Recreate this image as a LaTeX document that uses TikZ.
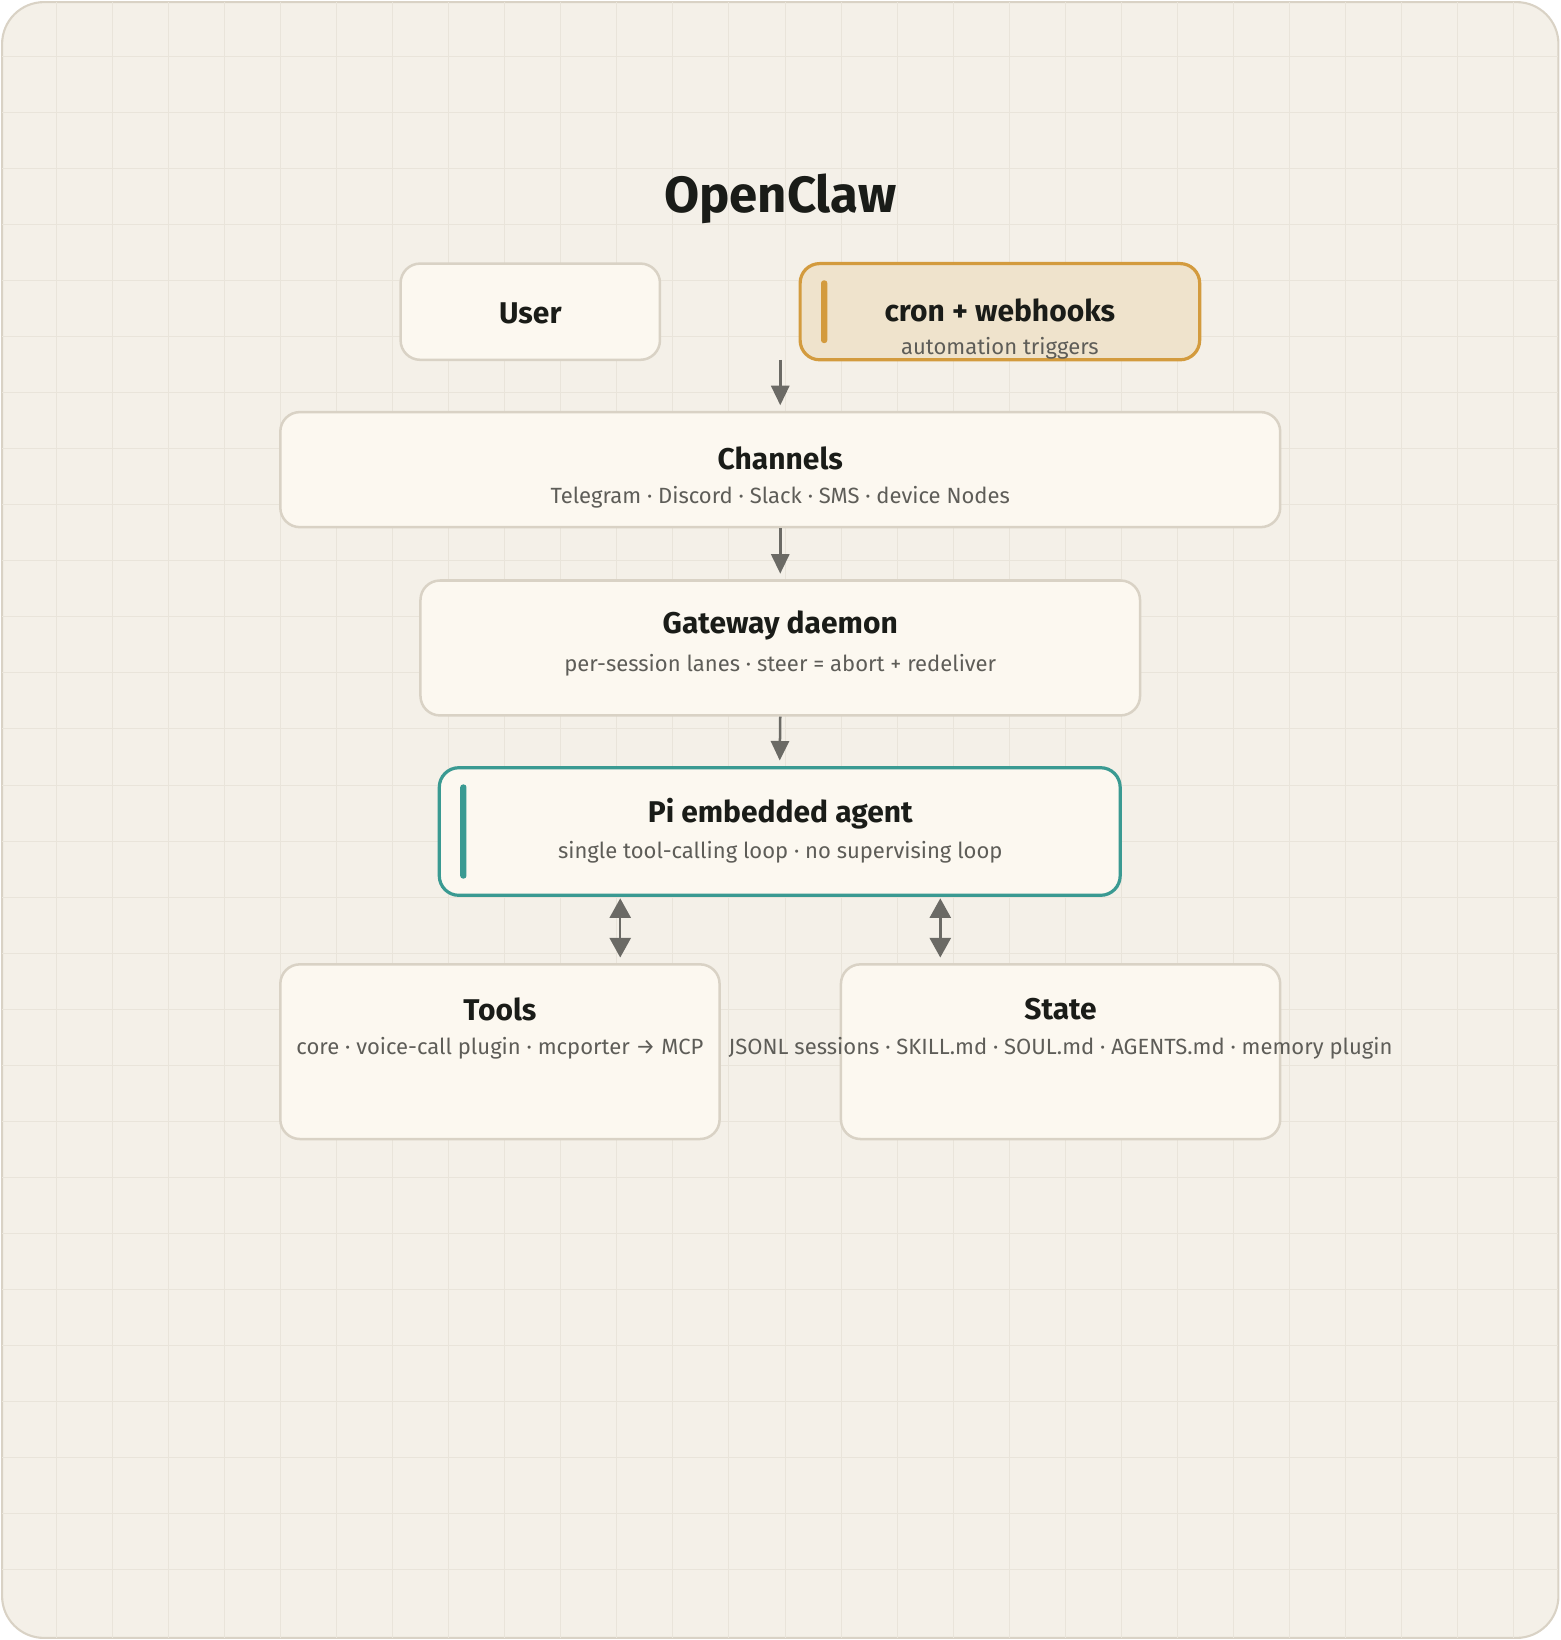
\documentclass[tikz,border=0pt]{standalone}
\usepackage{fontspec}
\setmainfont{Fira Sans}
\usetikzlibrary{arrows.meta}
\definecolor{bg}{HTML}{F4F0E8}
\definecolor{bd}{HTML}{D9D2C5}
\definecolor{card}{HTML}{FCF8F0}
\definecolor{ink}{HTML}{1A1C18}
\definecolor{sub}{HTML}{5E5D58}
\definecolor{arr}{HTML}{6B6A65}
\definecolor{gold}{HTML}{D39B3E}
\definecolor{goldf}{HTML}{EFE3CC}
\definecolor{teal}{HTML}{3A9A92}
\definecolor{grid}{HTML}{E9E4DA}
\begin{document}
\begin{tikzpicture}[x=0.75pt,y=-0.75pt,
 box/.style={draw=bd,line width=1.8pt,fill=card,rounded corners=14pt,inner sep=0},
 ttl/.style={text=ink,font=\fontsize{21.5}{25}\selectfont\bfseries},
 sb/.style={text=sub,font=\fontsize{15.8}{18}\selectfont},
 ar/.style={draw=arr,line width=1.8pt,-{Triangle[length=14pt,width=13pt]}},
 dar/.style={draw=arr,line width=1.8pt,{Triangle[length=14pt,width=15pt]}-{Triangle[length=14pt,width=15pt]}}]
\useasboundingbox (0,0) rectangle (1492,1568);
\draw[bd,fill=bg,line width=1.5pt,rounded corners=30pt] (2,2) rectangle (1490,1566);
\begin{scope}
\clip[rounded corners=30pt] (2,2) rectangle (1490,1566);
\foreach \i in {0,...,28} {\draw[grid,line width=0.5pt] (\i*53.6,2)--(\i*53.6,1566); \draw[grid,line width=0.5pt] (2,\i*53.6)--(1490,\i*53.6);}
\end{scope}
\node[text=ink,font=\fontsize{36.5}{42}\selectfont\bfseries] (title) at (746,190) {OpenClaw};
% boxes
\node[box,minimum width=248*0.75pt,minimum height=92*0.75pt] (user) at (507,298) {};
\node[ttl] at (507,300) {User};
\node[box,draw=gold,fill=goldf,line width=2.3pt,minimum width=382*0.75pt,minimum height=92*0.75pt] (cron) at (956,298) {};
\fill[gold,rounded corners=2pt] (785,268) rectangle (791,328);
\node[ttl] at (956,297) {cron + webhooks};
\node[sb] at (956,333) {automation triggers};
\node[box,minimum width=956*0.75pt,minimum height=110*0.75pt] (chan) at (746,449) {};
\node[ttl] at (746,438) {Channels};
\node[sb] at (746,475) {Telegram · Discord · Slack · SMS · device Nodes};
\node[box,minimum width=688*0.75pt,minimum height=129*0.75pt] (gw) at (746,619.5) {};
\node[ttl] at (746,598) {Gateway daemon};
\node[sb] at (746,636) {per-session lanes · steer = abort + redeliver};
\node[box,draw=teal,line width=2.3pt,minimum width=651*0.75pt,minimum height=122*0.75pt] (pi) at (745.5,795) {};
\fill[teal,rounded corners=2pt] (440,750) rectangle (446,840);
\node[ttl] at (746,778) {Pi embedded agent};
\node[sb] at (746,815) {single tool-calling loop · no supervising loop};
\node[box,minimum width=420*0.75pt,minimum height=167*0.75pt] (tools) at (478,1005.5) {};
\node[ttl] at (478,965) {Tools};
\node[sb] at (478,1002) {core · voice-call plugin · mcporter → MCP};
\node[box,minimum width=420*0.75pt,minimum height=167*0.75pt] (state) at (1014,1005.5) {};
\node[ttl] at (1014,965) {State};
\node[sb] at (1014,1002) {JSONL sessions · SKILL.md · SOUL.md · AGENTS.md · memory plugin};
% arrows
\coordinate (c1) at (746,344);
\draw[ar] (c1) -- ([yshift=4pt]chan.north);
\draw[ar] (chan.south) -- ([yshift=4pt]gw.north);
\draw[ar] (gw.south) -- ([yshift=4pt]pi.north);
\draw[dar] ([yshift=-1pt]pi.south -| 593,0) -- ([yshift=4pt]tools.north -| 593,0);
\draw[dar] ([yshift=-1pt]pi.south -| 899,0) -- ([yshift=4pt]state.north -| 899,0);
\end{tikzpicture}
\end{document}
